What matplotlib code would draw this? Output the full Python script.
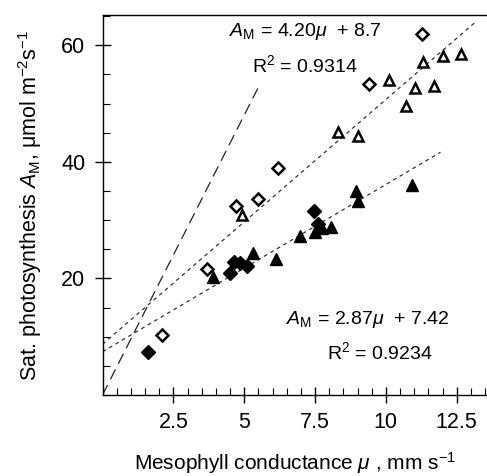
import matplotlib
matplotlib.use("Agg")
import matplotlib.pyplot as plt
import numpy as np
from matplotlib.ticker import MultipleLocator, FixedLocator

# open diamonds
OPEN_DIAMOND_X = [2.09, 3.68, 4.71, 5.50, 6.18, 9.41, 11.26]
OPEN_DIAMOND_Y = [10.3, 21.6, 32.4, 33.6, 38.9, 53.3, 62.0]

# open triangles
OPEN_TRI_X = [4.91, 8.30, 9.00, 10.71, 10.11, 11.03, 11.71, 11.30, 12.00, 12.65]
OPEN_TRI_Y = [30.9, 45.2, 44.4, 49.6, 54.0, 52.6, 53.0, 57.2, 58.1, 58.5]

# filled diamonds
FILLED_DIAMOND_X = [1.62, 4.50, 4.64, 4.85, 5.11, 7.47, 7.62]
FILLED_DIAMOND_Y = [7.4, 20.9, 22.9, 22.7, 22.1, 31.6, 29.3]

# filled triangles
FILLED_TRI_X = [3.91, 5.30, 6.12, 6.97, 7.50, 7.73, 8.05, 8.94, 9.00, 10.91]
FILLED_TRI_Y = [20.3, 24.4, 23.4, 27.2, 28.0, 28.6, 28.9, 35.0, 33.3, 36.0]

# regression lines: slope, intercept, x range
UPPER_FIT = (4.20, 8.7, 0.0, 13.15)
LOWER_FIT = (2.87, 7.42, 0.0, 11.93)
DASHED_LINE = (9.6, 0.0, 0.0, 5.48)

XLIM = (0, 13.57)
YLIM = (0, 65.2)
FONT = "Liberation Sans"
FS = 14
H = 476

plt.rcParams.update({"font.family": FONT, "mathtext.fontset": "custom",
                     "mathtext.rm": FONT, "mathtext.it": FONT + ":italic",
                     "font.size": FS})

fig = plt.figure(figsize=(4.87, 4.76), dpi=100)
ax = fig.add_axes([102.5 / 487, 81 / H, 384.5 / 487, 380 / H])

for slope, icpt, x0, x1 in (UPPER_FIT, LOWER_FIT):
    xs = np.array([x0, x1])
    ax.plot(xs, slope * xs + icpt, color="#333333", lw=0.9, ls=(0, (3, 3)))
slope, icpt, x0, x1 = DASHED_LINE
xs = np.array([x0, x1])
ax.plot(xs, slope * xs + icpt, color="#222222", lw=0.9, ls=(0, (9, 5)))

ax.plot(FILLED_DIAMOND_X, FILLED_DIAMOND_Y, "D", ms=7, color="black", ls="none")
ax.plot(FILLED_TRI_X, FILLED_TRI_Y, "^", ms=8.5, color="black", ls="none")
ax.plot(OPEN_DIAMOND_X, OPEN_DIAMOND_Y, "D", ms=6.3, mfc="white", mec="black",
        mew=1.8, ls="none")
ax.plot(OPEN_TRI_X, OPEN_TRI_Y, "^", ms=7.5, mfc="white", mec="black",
        mew=1.8, ls="none")

ax.set_xlim(*XLIM)
ax.set_ylim(*YLIM)
ax.xaxis.set_major_locator(FixedLocator([2.5, 5, 7.5, 10, 12.5]))
ax.xaxis.set_minor_locator(MultipleLocator(0.5))
ax.yaxis.set_major_locator(FixedLocator([20, 40, 60]))
ax.yaxis.set_minor_locator(MultipleLocator(5))
ax.set_xticklabels(["2.5", "5", "7.5", "10", "12.5"])
ax.tick_params(which="major", direction="inout", length=11, width=1, labelsize=15.5)
ax.tick_params(which="minor", direction="in", length=5, width=0.8)
ax.tick_params(axis="x", which="major", pad=7)
ax.tick_params(axis="y", which="major", pad=7)
ax.spines["right"].set_visible(False)
for s in ("left", "bottom", "top"):
    ax.spines[s].set_linewidth(1.0)

ax.set_xlabel(r"Mesophyll conductance $\mathit{\mu}$ , mm s$^{\mathregular{-1}}$",
              fontsize=15, labelpad=12)
ax.set_ylabel(r"Sat. photosynthesis $\mathit{A}_{\mathregular{M}}$, $\mathregular{\mu}$mol m$^{\mathregular{-2}}$s$^{\mathregular{-1}}$",
              fontsize=15.5, labelpad=12)

ax.text(305, H - 32, r"$\mathit{A}_{\mathregular{M}}$ = 4.20$\mathit{\mu}$  + 8.7",
        transform=None, fontsize=FS, ha="center", va="center")
ax.text(305, H - 65, r"R$^{\mathregular{2}}$ = 0.9314", transform=None,
        fontsize=FS, ha="center", va="center")
ax.text(368, H - 320, r"$\mathit{A}_{\mathregular{M}}$ = 2.87$\mathit{\mu}$  + 7.42",
        transform=None, fontsize=FS, ha="center", va="center")
ax.text(380, H - 352, r"R$^{\mathregular{2}}$ = 0.9234", transform=None,
        fontsize=FS, ha="center", va="center")

fig.savefig("out.png", dpi=100)
